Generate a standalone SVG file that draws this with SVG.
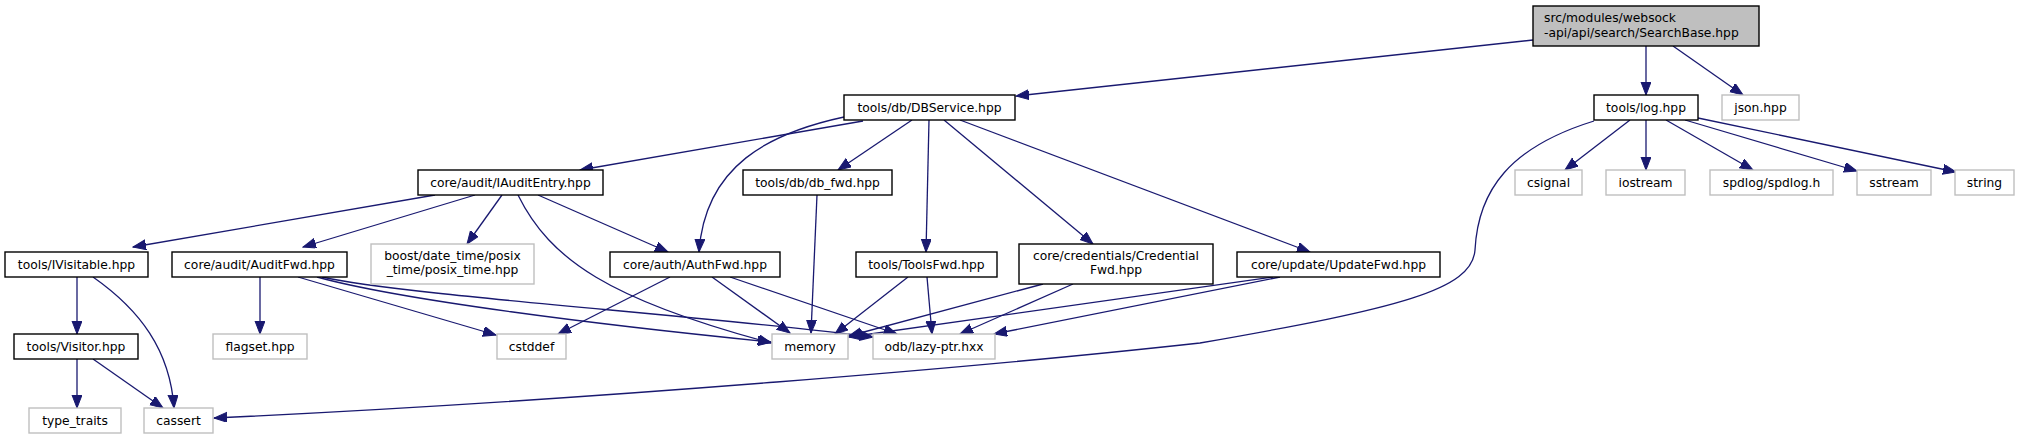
<svg xmlns="http://www.w3.org/2000/svg" width="2019" height="440" viewBox="0 0 2019 440">
<style>
.n rect{fill:#fff;stroke:#000;stroke-width:1.4}
.x rect{fill:#fff;stroke:#bfbfbf;stroke-width:1.4}
.r rect{fill:#bfbfbf;stroke:#000;stroke-width:1.4}
text{font-family:"DejaVu Sans","Liberation Sans",sans-serif;font-size:12.3px;fill:#000;text-anchor:middle}
.e path{fill:none;stroke:#191970;stroke-width:1.3;marker-end:url(#a)}
</style>
<defs>
<marker id="a" markerUnits="userSpaceOnUse" markerWidth="14" markerHeight="11" refX="13" refY="5" orient="auto">
<path d="M0,0 L13,5 L0,10 z" fill="#191970" stroke="#191970" stroke-width="1"/>
</marker>
</defs>
<rect width="2019" height="440" fill="#fff"/>
<g class="e" id="edges">
<path d="M1533,40 L1016,96"/>
<path d="M1646,46 L1646,95"/>
<path d="M1673,46 L1743,95"/>
<path d="M863,121 L580,170"/>
<path d="M844,117 C770,133 705,165 699,252"/>
<path d="M912,120 L838,170"/>
<path d="M929,120 L926,252"/>
<path d="M944,120 L1093,244"/>
<path d="M960,120 L1310,252"/>
<path d="M1630,120 L1565,170"/>
<path d="M1646,120 L1646,170"/>
<path d="M1666,120 L1753,170"/>
<path d="M1685,120 L1857,171"/>
<path d="M1698,118 L1956,172"/>
<path d="M1594,121 C1510,147 1478,190 1475,250 C1472,290 1400,308 1200,343 C1000,365 600,400 214,418"/>
<path d="M435,195 L133,247"/>
<path d="M475,195 L303,247"/>
<path d="M502,195 L467,244"/>
<path d="M538,195 L668,252"/>
<path d="M518,195 C550,260 610,300 771,343"/>
<path d="M260,277 L260,334"/>
<path d="M298,277 L496,335"/>
<path d="M317,277 C400,300 600,325 771,342"/>
<path d="M322,277 C400,295 700,315 873,337"/>
<path d="M670,277 L558,334"/>
<path d="M712,277 L790,333"/>
<path d="M730,277 L897,334"/>
<path d="M817,195 L811,333"/>
<path d="M908,277 L835,334"/>
<path d="M927,277 L932,334"/>
<path d="M1043,284 L849,336"/>
<path d="M1073,284 L960,334"/>
<path d="M1273,277 L849,337"/>
<path d="M1280,277 L994,334"/>
<path d="M77,277 L77,334"/>
<path d="M93,277 C140,310 170,350 174,408"/>
<path d="M77,359 L77,408"/>
<path d="M93,359 L163,408"/>
</g>
<g id="n_searchbase" class="r"><rect x="1533" y="6" width="226" height="40"/><text x="1544" y="21.5" style="text-anchor:start">src/modules/websock</text><text x="1544" y="36.5" style="text-anchor:start">-api/api/search/SearchBase.hpp</text></g>
<g id="n_dbservice" class="n"><rect x="844" y="95" width="171" height="25"/><text x="929.5" y="112">tools/db/DBService.hpp</text></g>
<g id="n_log" class="n"><rect x="1594" y="95" width="104" height="25"/><text x="1646" y="112">tools/log.hpp</text></g>
<g id="n_json" class="x"><rect x="1722" y="95" width="77" height="25"/><text x="1760.5" y="112">json.hpp</text></g>
<g id="n_iauditentry" class="n"><rect x="418" y="170" width="185" height="25"/><text x="510.5" y="187">core/audit/IAuditEntry.hpp</text></g>
<g id="n_dbfwd" class="n"><rect x="743" y="170" width="149" height="25"/><text x="817.5" y="187">tools/db/db_fwd.hpp</text></g>
<g id="n_csignal" class="x"><rect x="1515" y="170" width="67" height="25"/><text x="1548.5" y="187">csignal</text></g>
<g id="n_iostream" class="x"><rect x="1606" y="170" width="79" height="25"/><text x="1645.5" y="187">iostream</text></g>
<g id="n_spdlog" class="x"><rect x="1710" y="170" width="123" height="25"/><text x="1771.5" y="187">spdlog/spdlog.h</text></g>
<g id="n_sstream" class="x"><rect x="1857" y="170" width="74" height="25"/><text x="1894" y="187">sstream</text></g>
<g id="n_string" class="x"><rect x="1955" y="170" width="59" height="25"/><text x="1984.5" y="187">string</text></g>
<g id="n_ivisitable" class="n"><rect x="5" y="252" width="143" height="25"/><text x="76.5" y="269">tools/IVisitable.hpp</text></g>
<g id="n_auditfwd" class="n"><rect x="172" y="252" width="175" height="25"/><text x="259.5" y="269">core/audit/AuditFwd.hpp</text></g>
<g id="n_boost" class="x"><rect x="371" y="244" width="163" height="40"/><text x="452.5" y="259.5">boost/date_time/posix</text><text x="452.5" y="274">_time/posix_time.hpp</text></g>
<g id="n_authfwd" class="n"><rect x="610" y="252" width="170" height="25"/><text x="695" y="269">core/auth/AuthFwd.hpp</text></g>
<g id="n_toolsfwd" class="n"><rect x="856" y="252" width="141" height="25"/><text x="926.5" y="269">tools/ToolsFwd.hpp</text></g>
<g id="n_credentialfwd" class="n"><rect x="1019" y="244" width="194" height="40"/><text x="1116" y="259.5">core/credentials/Credential</text><text x="1116" y="274">Fwd.hpp</text></g>
<g id="n_updatefwd" class="n"><rect x="1237" y="252" width="203" height="25"/><text x="1338.5" y="269">core/update/UpdateFwd.hpp</text></g>
<g id="n_visitor" class="n"><rect x="14" y="334" width="124" height="25"/><text x="76" y="351">tools/Visitor.hpp</text></g>
<g id="n_flagset" class="x"><rect x="213" y="334" width="94" height="25"/><text x="260" y="351">flagset.hpp</text></g>
<g id="n_cstddef" class="x"><rect x="497" y="334" width="69" height="25"/><text x="531.5" y="351">cstddef</text></g>
<g id="n_memory" class="x"><rect x="772" y="334" width="76" height="25"/><text x="810" y="351">memory</text></g>
<g id="n_lazyptr" class="x"><rect x="873" y="334" width="122" height="25"/><text x="934" y="351">odb/lazy-ptr.hxx</text></g>
<g id="n_typetraits" class="x"><rect x="29" y="408" width="92" height="25"/><text x="75" y="425">type_traits</text></g>
<g id="n_cassert" class="x"><rect x="144" y="408" width="69" height="25"/><text x="178.5" y="425">cassert</text></g>
</svg>
